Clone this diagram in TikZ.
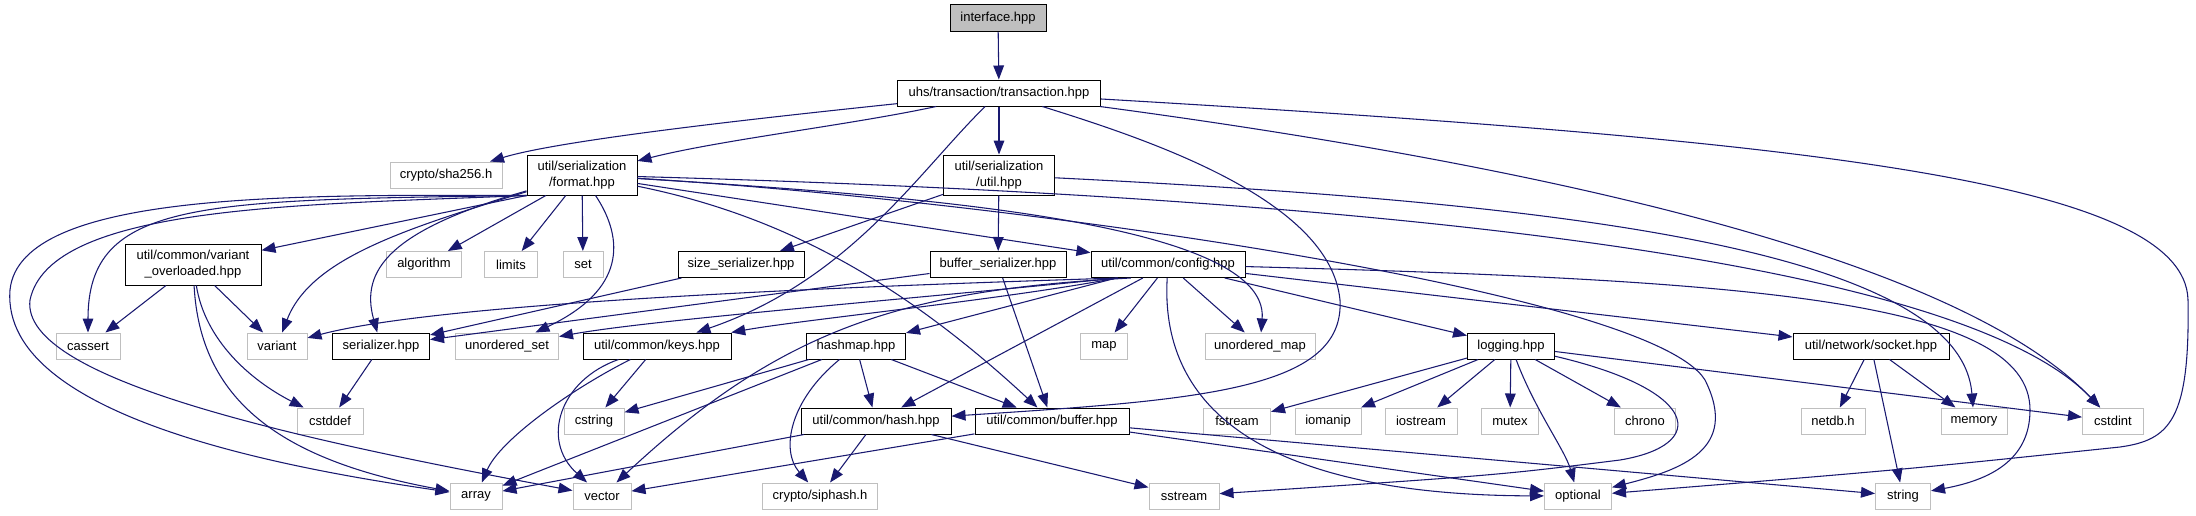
\documentclass[tikz,border=0pt]{standalone}
\usepackage{fontspec}
\setmainfont{Liberation Sans}
\usetikzlibrary{arrows.meta}
\definecolor{edgeblue}{HTML}{191970}
\definecolor{sysgray}{HTML}{BFBFBF}
\begin{document}
\begin{tikzpicture}[x=0.75pt,y=-0.75pt,
  font=\fontsize{9.75}{12}\selectfont,
  nd/.style 2 args={draw=black, line width=0.75pt, fill=white, text=black,
    minimum width={#1*0.75pt}, minimum height={#2*0.75pt}, inner sep=0pt, align=center},
  sys/.style={draw=sysgray},
  rootnode/.style={fill=sysgray},
  dep/.style={draw=edgeblue, line width=0.8pt, -{Triangle[length=10.5pt,width=8pt]}}]
\fill[white] (0,0) rectangle (2196,515);
\useasboundingbox (0,0) rectangle (2196,515);
% rows
\node[nd={96}{27}, rootnode] (interface) at (998,18) {interface.hpp};
\node[nd={203}{26}] (transaction) at (999,93) {uhs/transaction/transaction.hpp};
\node[nd={112}{26}, sys] (sha256) at (446,175) {crypto/sha256.h};
\node[nd={110}{40}] (format) at (582,175) {util/serialization\\/format.hpp};
\node[nd={111}{40}] (util) at (999,175) {util/serialization\\/util.hpp};
\node[nd={136}{41}] (variant_ov) at (193,264.5) {util/common/variant\\\_overloaded.hpp};
\node[nd={75}{26}, sys] (algorithm) at (424,264.5) {algorithm};
\node[nd={53}{26}, sys] (limits) at (511,264.5) {limits};
\node[nd={40}{26}, sys] (set) at (583,264.5) {set};
\node[nd={126}{26}] (size_ser) at (741,264.5) {size\_serializer.hpp};
\node[nd={136}{26}] (buffer_ser) at (998,264.5) {buffer\_serializer.hpp};
\node[nd={154}{26}] (config) at (1168,264.5) {util/common/config.hpp};
\node[nd={64}{26}, sys] (cassert) at (88,346) {cassert};
\node[nd={60}{26}, sys] (variant) at (277,346) {variant};
\node[nd={97}{26}] (serializer) at (381,346) {serializer.hpp};
\node[nd={103}{26}, sys] (unordered_set) at (507,346) {unordered\_set};
\node[nd={148}{26}] (keys) at (657,346) {util/common/keys.hpp};
\node[nd={99}{26}] (hashmap) at (856,346) {hashmap.hpp};
\node[nd={47}{26}, sys] (map) at (1104,346) {map};
\node[nd={110}{26}, sys] (unordered_map) at (1260,346) {unordered\_map};
\node[nd={87}{26}] (logging) at (1511,346) {logging.hpp};
\node[nd={156}{26}] (socket) at (1871,346) {util/network/socket.hpp};
\node[nd={66}{26}, sys] (cstddef) at (330,421) {cstddef};
\node[nd={60}{26}, sys] (cstring) at (594,421) {cstring};
\node[nd={150}{26}] (hash) at (876,421) {util/common/hash.hpp};
\node[nd={154}{26}] (buffer) at (1052,421) {util/common/buffer.hpp};
\node[nd={67}{26}, sys] (fstream) at (1237,421) {fstream};
\node[nd={66}{26}, sys] (iomanip) at (1328,421) {iomanip};
\node[nd={72}{26}, sys] (iostream) at (1421,421) {iostream};
\node[nd={57}{26}, sys] (mutex) at (1510,421) {mutex};
\node[nd={61}{26}, sys] (chrono) at (1645,421) {chrono};
\node[nd={64}{26}, sys] (netdb) at (1833,421) {netdb.h};
\node[nd={66}{26}, sys] (memory) at (1974,421) {memory};
\node[nd={61}{26}, sys] (cstdint) at (2113,421) {cstdint};
\node[nd={52}{26}, sys] (array) at (476,496) {array};
\node[nd={58}{26}, sys] (vector) at (602,496) {vector};
\node[nd={115}{26}, sys] (siphash) at (820,496) {crypto/siphash.h};
\node[nd={70}{26}, sys] (sstream) at (1184,496) {sstream};
\node[nd={67}{26}, sys] (optional) at (1578,496) {optional};
\node[nd={55}{26}, sys] (string) at (1903,496) {string};
% interface / transaction
\draw[dep] (interface) -- (transaction);
\draw[dep] (transaction) .. controls (760,118) and (560,140) .. (sha256);
\draw[dep] (transaction) .. controls (850,125) and (720,140) .. (format);
\draw[dep] (transaction) -- (util);
\draw[dep] (transaction) .. controls (920,170) and (850,280) .. (keys);
\draw[dep] (transaction) .. controls (1150,140) and (1330,200) .. (1340,300) .. controls (1345,390) and (1200,400) .. (hash);
\draw[dep] (transaction) .. controls (1500,160) and (1950,250) .. (cstdint);
\draw[dep] (transaction) .. controls (1800,140) and (2185,180) .. (2188,300) .. controls (2190,420) and (2170,440) .. (2120,447) .. controls (1900,470) .. (optional);
% format
\draw[dep] (format.south west) -- (variant_ov);
\draw[dep] (format.south west) .. controls (200,200) and (88,200) .. (cassert);
\draw[dep] (format) .. controls (400,230) and (310,260) .. (variant);
\draw[dep] (format) .. controls (390,230) and (360,270) .. (serializer);
\draw[dep] (format.south west) .. controls (300,195) and (20,190) .. (10,290) .. controls (0,420) and (300,470) .. (array);
\draw[dep] (format.south west) .. controls (300,205) and (50,205) .. (30,300) .. controls (20,380) and (300,440) .. (vector);
\draw[dep] (format) -- (algorithm);
\draw[dep] (format) -- (limits);
\draw[dep] (format) -- (set);
\draw[dep] (format) .. controls (625,240) and (625,290) .. (unordered_set);
\draw[dep] (format) -- (config);
\draw[dep] (format) .. controls (780,215) and (900,280) .. (buffer);
\draw[dep] (format) .. controls (900,195) and (1270,220) .. (unordered_map);
\draw[dep] (format) .. controls (1000,200) and (1650,290) .. (1705,380) .. controls (1740,450) and (1680,470) .. (optional);
\draw[dep] (format) .. controls (1300,195) and (1950,250) .. (cstdint);
% util
\draw[dep] (util) -- (size_ser);
\draw[dep] (util) -- (buffer_ser);
\draw[dep] (util) .. controls (1500,200) and (1960,240) .. (memory);
% variant_overloaded
\draw[dep] (variant_ov) -- (cassert);
\draw[dep] (variant_ov) -- (variant);
\draw[dep] (variant_ov) .. controls (205,340) and (250,380) .. (cstddef);
\draw[dep] (variant_ov) .. controls (200,400) and (280,460) .. (array);
% serializers
\draw[dep] (size_ser) -- (serializer);
\draw[dep] (buffer_ser) -- (serializer);
\draw[dep] (buffer_ser) -- (buffer);
\draw[dep] (serializer) -- (cstddef);
% config
\draw[dep] (config.195) .. controls (900,285) and (450,300) .. (variant);
\draw[dep] (config.195) .. controls (900,300) and (650,320) .. (unordered_set);
\draw[dep] (config.195) .. controls (1000,300) and (800,320) .. (keys);
\draw[dep] (config.200) .. controls (900,290) and (780,330) .. (vector);
\draw[dep] (config) -- (hashmap);
\draw[dep] (config) -- (hash);
\draw[dep] (config) -- (map);
\draw[dep] (config) -- (unordered_map);
\draw[dep] (config) .. controls (1160,400) and (1250,495) .. (optional);
\draw[dep] (config) -- (logging);
\draw[dep] (config) -- (socket);
\draw[dep] (config) .. controls (1750,280) and (2030,300) .. (2030,410) .. controls (2030,460) and (1990,480) .. (string);
% keys
\draw[dep] (keys) -- (cstring);
\draw[dep] (keys) .. controls (570,390) and (500,440) .. (array);
\draw[dep] (keys) .. controls (560,380) and (540,440) .. (vector);
% hashmap
\draw[dep] (hashmap) -- (cstring);
\draw[dep] (hashmap) -- (array);
\draw[dep] (hashmap) .. controls (790,400) and (780,450) .. (siphash);
\draw[dep] (hashmap) -- (hash);
\draw[dep] (hashmap) -- (buffer);
% hash
\draw[dep] (hash) -- (array);
\draw[dep] (hash) -- (siphash);
\draw[dep] (hash) -- (sstream);
% buffer
\draw[dep] (buffer) -- (vector);
\draw[dep] (buffer) -- (optional);
\draw[dep] (buffer) -- (string);
% logging
\draw[dep] (logging) -- (fstream);
\draw[dep] (logging) -- (iomanip);
\draw[dep] (logging) -- (iostream);
\draw[dep] (logging) -- (mutex);
\draw[dep] (logging) -- (chrono);
\draw[dep] (logging) .. controls (1535,410) and (1565,450) .. (optional);
\draw[dep] (logging) .. controls (1700,390) and (1710,445) .. (1620,460) .. controls (1500,475) .. (sstream);
\draw[dep] (logging) -- (cstdint);
% socket
\draw[dep] (socket) -- (netdb);
\draw[dep] (socket) -- (memory);
\draw[dep] (socket) -- (string);
\end{tikzpicture}
\end{document}
